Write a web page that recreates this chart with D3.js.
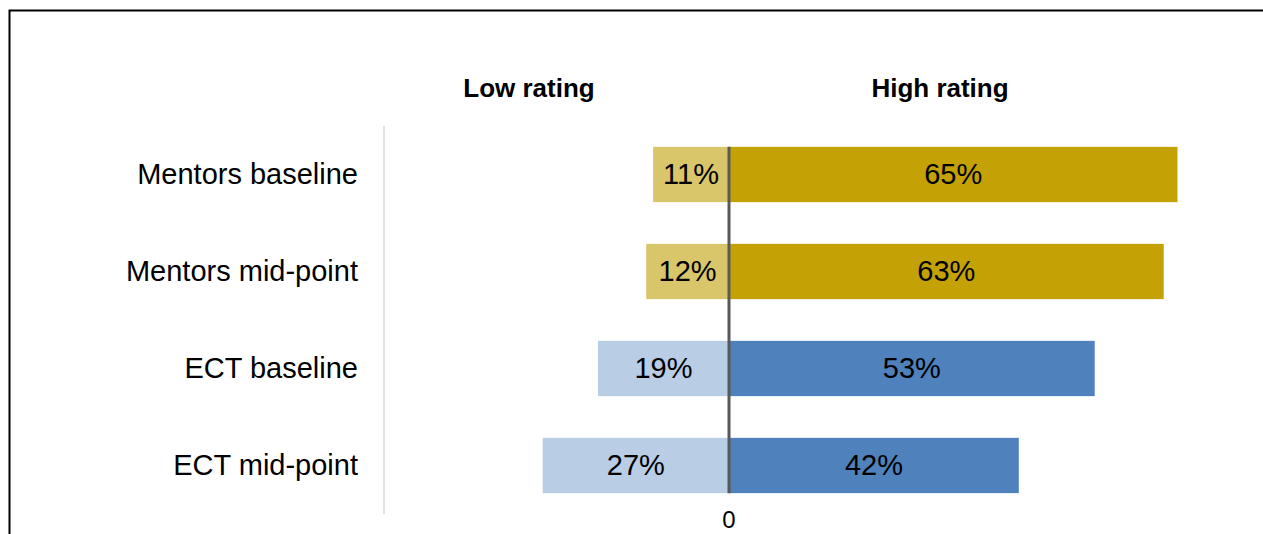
<!DOCTYPE html>
<html><head><meta charset="utf-8">
<script src="https://cdn.jsdelivr.net/npm/d3@7"></script>
<style>html,body{margin:0;padding:0;background:#fff;}svg{display:block;}</style>
</head><body>
<script>
const categories = ["Mentors baseline", "Mentors mid-point", "ECT baseline", "ECT mid-point"];
const lowValues = [11, 12, 19, 27];
const highValues = [65, 63, 53, 42];
const groups = ["mentor", "mentor", "ect", "ect"];
const headers = ["Low rating", "High rating"];
const xTicks = [0];

const W = 1263, H = 534;
const colors = {
  mentor: {low: "#D9C66A", high: "#C4A205"},
  ect: {low: "#B9CDE5", high: "#4F81BD"}
};
const svg = d3.select("body").append("svg").attr("width", W).attr("height", H);
svg.append("rect").attr("width", W).attr("height", H).attr("fill", "#fff");
// frame
svg.append("rect").attr("x", 9.5).attr("y", 10.5).attr("width", W + 20).attr("height", H + 20)
  .attr("fill", "none").attr("stroke", "#000").attr("stroke-width", 2);

const x = d3.scaleLinear().domain([-100, 100]).range([729 - 690, 729 + 690]);
const y = d3.scaleBand().domain(categories).range([126, 514]).paddingInner(0.43).paddingOuter(0.215);

const font = "Arial, 'Liberation Sans', sans-serif";

// category axis line
svg.append("line").attr("x1", 384).attr("x2", 384).attr("y1", 126).attr("y2", 514)
  .attr("stroke", "#D9D9D9").attr("stroke-width", 1.5);

svg.selectAll(".cat").data(categories).enter().append("text")
  .attr("x", 358).attr("y", d => y(d) + y.bandwidth() / 2)
  .attr("dy", "0.34em").attr("text-anchor", "end")
  .attr("font-family", font).attr("font-size", "29px")
  .attr("fill", "#000").text(d => d);

const rows = categories.map((c, i) => ({c, low: lowValues[i], high: highValues[i], g: groups[i]}));

// low bars
svg.selectAll(".low").data(rows).enter().append("rect")
  .attr("x", d => x(-d.low)).attr("width", d => x(0) - x(-d.low))
  .attr("y", d => y(d.c)).attr("height", y.bandwidth())
  .attr("fill", d => colors[d.g].low);
// high bars
svg.selectAll(".high").data(rows).enter().append("rect")
  .attr("x", x(0)).attr("width", d => x(d.high) - x(0))
  .attr("y", d => y(d.c)).attr("height", y.bandwidth())
  .attr("fill", d => colors[d.g].high);

// labels
svg.selectAll(".lowl").data(rows).enter().append("text")
  .attr("x", d => (x(-d.low) + x(0)) / 2).attr("y", d => y(d.c) + y.bandwidth() / 2)
  .attr("dy", "0.34em").attr("text-anchor", "middle")
  .attr("font-family", font).attr("font-size", "29px").attr("fill", "#000")
  .text(d => d.low + "%");
svg.selectAll(".highl").data(rows).enter().append("text")
  .attr("x", d => (x(d.high) + x(0)) / 2).attr("y", d => y(d.c) + y.bandwidth() / 2)
  .attr("dy", "0.34em").attr("text-anchor", "middle")
  .attr("font-family", font).attr("font-size", "29px").attr("fill", "#000")
  .text(d => d.high + "%");

// zero line
svg.append("line").attr("x1", x(0)).attr("x2", x(0))
  .attr("y1", y(categories[0])).attr("y2", y(categories[3]) + y.bandwidth())
  .attr("stroke", "#595959").attr("stroke-width", 3);

// x ticks
svg.selectAll(".xt").data(xTicks).enter().append("text")
  .attr("x", d => x(d)).attr("y", 528).attr("text-anchor", "middle")
  .attr("font-family", font).attr("font-size", "24px").attr("fill", "#000")
  .text(d => d);

// headers
svg.selectAll(".hdr").data(headers).enter().append("text")
  .attr("x", (d, i) => i === 0 ? 529 : 940).attr("y", 97).attr("text-anchor", "middle")
  .attr("font-family", font).attr("font-size", "26px").attr("font-weight", "bold").attr("fill", "#000")
  .text(d => d);
</script>
</body></html>
